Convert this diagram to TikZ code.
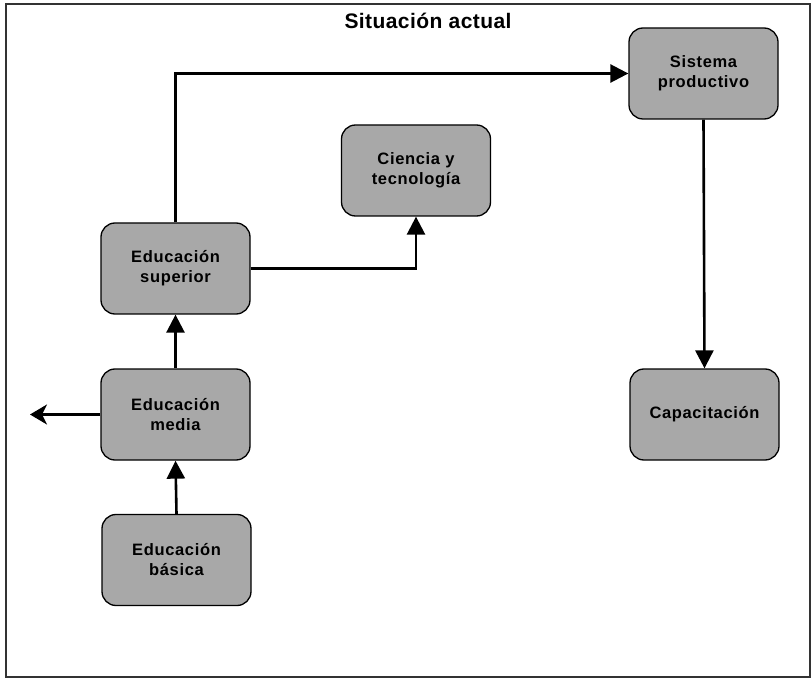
\documentclass[tikz,border=0pt]{standalone}
\usepackage{fontspec}
\setmainfont{Liberation Sans}
\newfontfamily\spacedfont[LetterSpace=4]{Liberation Sans}
\newfontfamily\titlefont[LetterSpace=2]{Liberation Sans}
\usetikzlibrary{arrows.meta}
\begin{document}
\begin{tikzpicture}[x=1pt,y=-1pt,
  boxnode/.style={draw=black, line width=1.3pt, fill=black!34, rounded corners=14pt,
    minimum width=149pt, minimum height=91pt, align=center,
    font=\spacedfont\fontsize{16.5}{20}\selectfont\bfseries, inner sep=2pt},
  conn/.style={line width=2.6pt, -{Triangle[length=18pt,width=18pt]}},
  connopen/.style={line width=2.6pt, -{Stealth[length=17pt,width=20pt,inset=5pt]}}]
\useasboundingbox (0,0) rectangle (812,679);
\draw[line width=1.2pt, draw=black!80] (6,4) rectangle (810,677);
\node[font=\titlefont\fontsize{21}{24}\selectfont\bfseries] (title) at (428,21) {Situación actual};
\node[boxnode] (sp) at (703.5,73.5) {Sistema\\productivo};
\node[boxnode] (ct) at (416,170.5) {Ciencia y\\tecnología};
\node[boxnode] (es) at (175.5,268.5) {Educación\\superior};
\node[boxnode] (em) at (175.5,414.5) {Educación\\media};
\node[boxnode] (eb) at (176.5,560) {Educación\\básica};
\node[boxnode] (ca) at (704.5,414.5) {Capacitación};
\coordinate (left) at (30,414.5);
\draw[conn] (es.north) |- (sp.west);
\draw[conn] (es.east) -| (ct.south);
\draw[conn] (em.north) -- (es.south);
\draw[conn] (eb.north) -- (em.south);
\draw[conn] (sp.south) -- (ca.north);
\draw[connopen] (em.west) -- (left);
\end{tikzpicture}
\end{document}
